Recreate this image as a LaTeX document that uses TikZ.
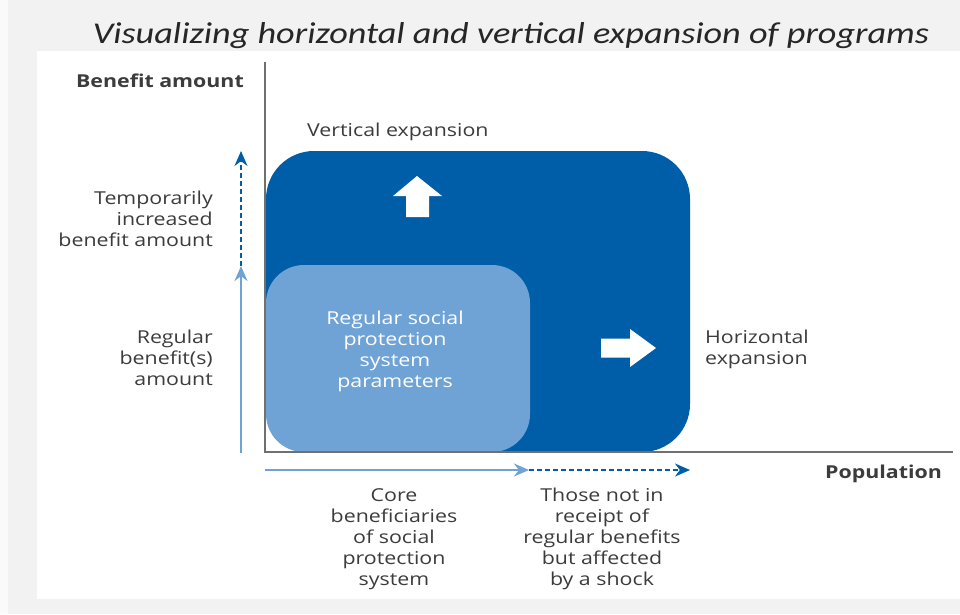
\documentclass[tikz,border=0pt]{standalone}
\usepackage{fontspec}
\setmainfont[FakeStretch=1.2]{Open Sans}
\newfontfamily\titlefont[FakeStretch=1.2]{Carlito}
\usetikzlibrary{arrows.meta}
\definecolor{bggray}{HTML}{F2F2F2}
\definecolor{darkblue}{HTML}{005EA8}
\definecolor{lightblue}{HTML}{6FA3D6}
\definecolor{axisgray}{HTML}{707070}
\definecolor{txt}{HTML}{3C3C3C}
\tikzset{
  lbl/.style={text=txt, font=\fontsize{17.8}{21}\selectfont, inner sep=0pt},
  boldlbl/.style={text=txt, font=\fontsize{17.8}{21}\selectfont\bfseries, inner sep=0pt},
  axisline/.style={draw=axisgray, line width=2pt},
  solidarr/.style={draw=lightblue, line width=1.8pt, -{Stealth[length=15pt,width=13pt]}},
  dasharr/.style={draw=darkblue, line width=1.6pt, dash pattern=on 5pt off 3pt, -{Stealth[length=15pt,width=13pt]}},
}
\begin{document}
\begin{tikzpicture}[x=1pt,y=-1pt]
\useasboundingbox (0,0) rectangle (960,614);
\fill[bggray] (0,0) rectangle (960,614);
\fill[white!60!bggray] (0,0) rectangle (8,614);
\fill[white] (37,51) rectangle (960,599);
% title
\node[font=\titlefont\itshape\fontsize{30.2}{36}\selectfont, text=black!85, inner sep=0pt] (title) at (511,36) {Visualizing horizontal and vertical expansion of programs};
% rectangles
\node[fill=darkblue, rounded corners=48pt, minimum width=424pt, minimum height=301pt, inner sep=0pt] (big) at (478,301.5) {};
\node[fill=lightblue, rounded corners=38pt, minimum width=264pt, minimum height=187pt, inner sep=0pt] (small) at (398,358.5) {};
\node[lbl, text=white, align=center] (params) at (395,351) {Regular social\\protection\\system\\parameters};
% white arrows
\fill[white] (417,176) -- (442,196) -- (429,196) -- (429,217) -- (406,217) -- (406,196) -- (393,196) -- cycle;
\fill[white] (656,348) -- (630,329) -- (630,338.5) -- (601,338.5) -- (601,357.5) -- (630,357.5) -- (630,367) -- cycle;
% axes
\coordinate (yaxtop) at (265,62);
\coordinate (origin) at (265,452);
\coordinate (xaxend) at (953,452);
\draw[axisline] (yaxtop) -- (origin) -- (xaxend);
% labels
\node[boldlbl, anchor=east] (benefit) at (244,81) {Benefit amount};
\node[boldlbl, anchor=east] (population) at (942,474) {Population};
\node[lbl, anchor=west] (vexp) at (307,131.5) {Vertical expansion};
\node[lbl, anchor=west, align=left] (hexp) at (705,349) {Horizontal\\expansion};
\node[lbl, anchor=east, align=right] (temp) at (213,219) {Temporarily\\increased\\benefit amount};
\node[lbl, anchor=east, align=right] (regular) at (213,357.5) {Regular\\benefit(s)\\amount};
\node[lbl, align=center] (core) at (394,539) {Core\\beneficiaries\\of social\\protection\\system};
\node[lbl, align=center] (those) at (602,539) {Those not in\\receipt of\\regular benefits\\but affected\\by a shock};
% side arrows
\coordinate (vbot) at (241,453);
\coordinate (vmid) at (241,266);
\coordinate (vtop) at (241,151);
\draw[solidarr] (vbot) -- (vmid);
\draw[dasharr] (vmid) -- (vtop);
\coordinate (hleft) at (265,470);
\coordinate (hmid) at (529,470);
\coordinate (hright) at (690,470);
\draw[solidarr] (hleft) -- (hmid);
\draw[dasharr] (hmid) -- (hright);
\end{tikzpicture}
\end{document}
